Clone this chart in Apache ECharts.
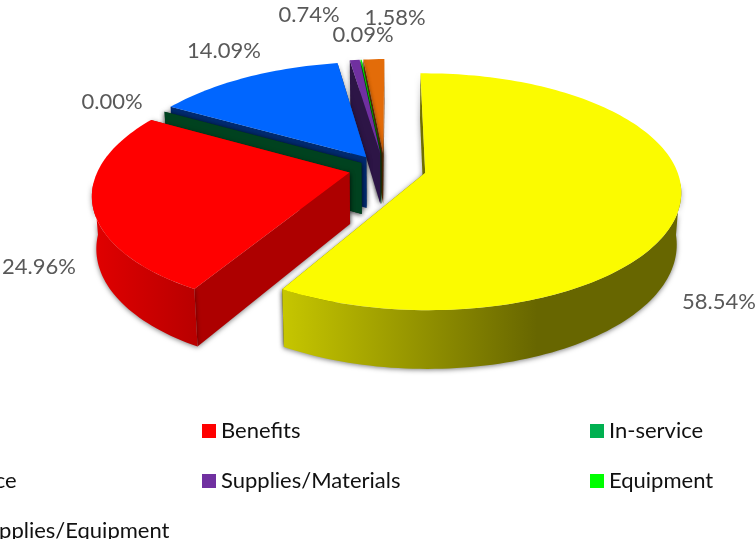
<!DOCTYPE html>
<html lang="en">
<head>
<meta charset="utf-8">
<title>Expenditure pie</title>
<style>
    html, body { margin: 0; padding: 0; background: #fff; }
    #main { width: 755px; height: 539px; }
</style>
<script src="https://cdn.jsdelivr.net/npm/echarts@6/dist/echarts.min.js"></script>
</head>
<body>
<div id="main"></div>
<script>
    // data, percent of total, clockwise from the top
    var categories = ['Salaries', 'Benefits', 'In-service', 'Contracted Service', 'Supplies/Materials', 'Equipment', 'Miscellaneous Supplies/Equipment'];
    var values = [58.54, 24.96, 0.00, 14.09, 0.74, 0.09, 1.58];

    // colours
    var topColors = ['#fbfb00', '#ff0000', '#00b050', '#0066ff', '#7030a0', '#00ff00', '#e36c09'];
    var edgeColors = ['#6f6e00', '#ad0000', '#00421f', '#002b70', '#2d1546', '#006600', '#7a3b05'];

    // how far each slice is pulled out
    var explodes = [0.165, 0.145, 0.11, 0.135, 0.15, 0.15, 0.15];

    // label centres, placed by hand like the original
    var labelX = [719, 39, 112, 224, 309, 363, 395];
    var labelY = [302, 267, 102, 51, 15, 35, 18];

    // back to front
    var drawOrder = [6, 5, 4, 3, 2, 1, 0];

    // fake 3d camera
    var cx = 385, cy = 168.5, rx = 251, ry = 114, depth = 52;
    var persp = 0.16, shrink = 0.015, skew = 5, startDeg = -1.1;
    // the outer wall only shows on the near side of the rim
    var wallFrom = 95, wallTo = 265;

    function project(u, v, z) {
        var w = 1 - persp * v + shrink * z;
        return [cx + rx * u / w - skew * v, cy + (ry * v + depth * z) / w];
    }

    var startAngles = [];
    var sum = 0;
    for (var i = 0; i < values.length; i++) {
        startAngles.push(startDeg + sum * 3.6);
        sum += values[i];
    }

    var gradients = {
        0: new echarts.graphic.LinearGradient(283, 0, 680, 0, [
            { offset: 0, color: '#c6c600' },
            { offset: 0.64, color: '#676600' },
            { offset: 1, color: '#676600' }
        ], true),
        1: new echarts.graphic.LinearGradient(95, 0, 195, 0, [
            { offset: 0, color: '#e00000' },
            { offset: 1, color: '#b90000' }
        ], true)
    };

    var wallShadow = { shadowBlur: 5, shadowColor: 'rgba(0,0,0,0.5)', shadowOffsetY: 1 };

    function wallStyle(fill) {
        return Object.assign({ fill: fill }, wallShadow);
    }

    function rim(a0, a1, ou, ov, z) {
        var steps = Math.max(2, Math.ceil((a1 - a0) * 40));
        var pts = [];
        for (var s = 0; s <= steps; s++) {
            var a = a0 + (a1 - a0) * s / steps;
            pts.push(project(ou + Math.sin(a), ov - Math.cos(a), z));
        }
        return pts;
    }

    function renderSlice(idx, value) {
        var a0 = startAngles[idx] * Math.PI / 180;
        var a1 = a0 + value * 3.6 * Math.PI / 180;
        var mid = (a0 + a1) / 2;
        var ou = Math.sin(mid) * explodes[idx];
        var ov = -Math.cos(mid) * explodes[idx] * 0.9;

        var apexTop = project(ou, ov, 0);
        var apexBottom = project(ou, ov, 1);
        var rimTop = rim(a0, a1, ou, ov, 0);
        var first = rimTop[0];
        var last = rimTop[rimTop.length - 1];
        var firstLow = project(ou + Math.sin(a0), ov - Math.cos(a0), 1);
        var lastLow = project(ou + Math.sin(a1), ov - Math.cos(a1), 1);

        var edge = edgeColors[idx];
        var startWall = [apexTop, first, firstLow, apexBottom];
        var endWall = [apexTop, last, lastLow, apexBottom];
        // the far edge goes first so the near one paints over it
        var walls = -Math.cos(a0) < -Math.cos(a1) ? [startWall, endWall] : [endWall, startWall];

        var children = walls.map(function (pts) {
            return { type: 'polygon', shape: { points: pts }, style: wallStyle(edge) };
        });
        var w0 = Math.max(a0, wallFrom * Math.PI / 180);
        var w1 = Math.min(a1, wallTo * Math.PI / 180);
        if (w1 > w0) {
            var upper = rim(w0, w1, ou, ov, 0);
            var lower = rim(w0, w1, ou, ov, 1);
            children.push({
                type: 'polygon',
                shape: { points: upper.concat(lower.reverse()) },
                style: wallStyle(gradients[idx] || edge)
            });
        }
        if (value > 0) {
            children.push({
                type: 'polygon',
                shape: { points: [apexTop].concat(rimTop) },
                style: { fill: topColors[idx] }
            });
        }
        return { type: 'group', children: children };
    }

    var series = drawOrder.map(function (idx) {
        return {
            name: categories[idx],
            type: 'custom',
            coordinateSystem: 'none',
            itemStyle: { color: topColors[idx] },
            data: [values[idx]],
            renderItem: function (params, api) {
                return renderSlice(idx, api.value(0));
            },
            silent: true,
            animation: false
        };
    });

    series.push({
        type: 'custom',
        coordinateSystem: 'none',
        data: values,
        z: 5,
        silent: true,
        animation: false,
        renderItem: function (params, api) {
            var i = params.dataIndex;
            return {
                type: 'text',
                style: {
                    x: labelX[i],
                    y: labelY[i],
                    text: api.value(0).toFixed(2) + '%',
                    fill: '#595959',
                    font: '22px Lato',
                    align: 'center',
                    verticalAlign: 'middle'
                }
            };
        }
    });

    function legendColumn(left, names) {
        return {
            left: left,
            top: 420,
            height: 200,
            orient: 'vertical',
            padding: 0,
            itemGap: 28,
            itemWidth: 14,
            itemHeight: 14,
            icon: 'rect',
            selectedMode: false,
            data: names,
            textStyle: { color: '#111', fontFamily: 'Lato', fontSize: 22 }
        };
    }

    var myChart = echarts.init(document.getElementById('main'), null, { renderer: 'canvas' });
    myChart.setOption({
        animation: false,
        backgroundColor: '#fff',
        legend: [
            legendColumn(-186, [categories[0], categories[3], categories[6]]),
            legendColumn(202, [categories[1], categories[4]]),
            legendColumn(590, [categories[2], categories[5]])
        ],
        series: series
    });
</script>
</body>
</html>
